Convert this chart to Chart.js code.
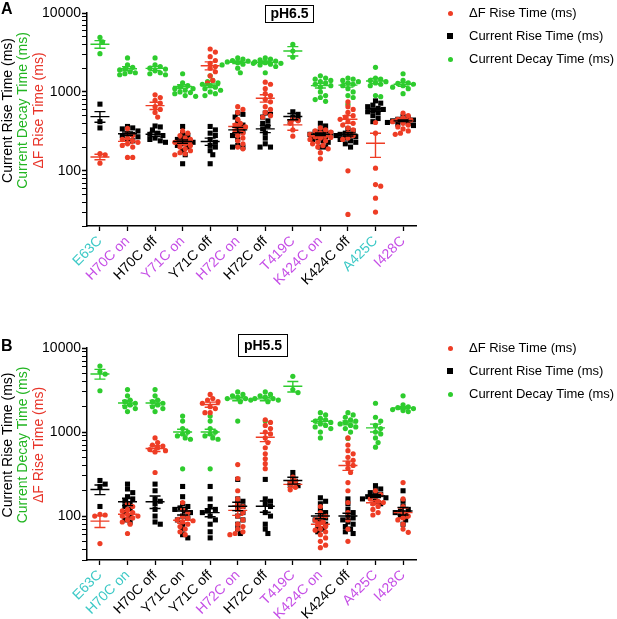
<!doctype html>
<html lang="en">
<head>
<meta charset="UTF-8">
<title>Rise and decay times</title>
<script src="https://cdn.jsdelivr.net/npm/chart.js"></script>
<style>
    body { margin: 0; background: #fff; font-family: Arial, "Liberation Sans", sans-serif; }
    #page { position: relative; width: 617px; height: 619px; overflow: hidden; }
    canvas { position: absolute; left: 0; }
    .letter { position: absolute; left: 1px; font-weight: bold; font-size: 16px; }
    .phbox { position: absolute; border: 1.5px solid #000; font-weight: bold; font-size: 14px;
             text-align: center; box-sizing: border-box; }
    .leg { position: absolute; left: 469px; font-size: 13px; line-height: 16px; white-space: nowrap; }
    .mk { position: absolute; }
</style>
</head>
<body>
<div id="page">
    <canvas id="chartA" width="617" height="300" style="top:0"></canvas>
    <canvas id="chartB" width="617" height="319" style="top:300px"></canvas>

    <div class="letter" style="top:0">A</div>
    <div class="letter" style="top:337px">B</div>
    <div class="phbox" style="left:265px;top:5px;width:49px;height:18px;line-height:15px">pH6.5</div>
    <div class="phbox" style="left:238px;top:334px;width:50px;height:23px;line-height:20px">pH5.5</div>

    <div id="legA"></div>
    <div id="legB"></div>
</div>

<script>
    var categories = ['E63C', 'H70C on', 'H70C off', 'Y71C on', 'Y71C off', 'H72C on', 'H72C off',
        'T419C', 'K424C on', 'K424C off', 'A425C', 'I428C'];

    var seriesNames = ['\u0394F Rise Time (ms)', 'Current Rise Time (ms)', 'Current Decay Time (ms)'];

    // c = cyan, m = magenta, k = black
    var labelKindsA = ['c', 'm', 'k', 'm', 'k', 'm', 'k', 'm', 'm', 'k', 'c', 'm'];
    var labelKindsB = ['c', 'c', 'k', 'k', 'k', 'm', 'k', 'm', 'm', 'k', 'm', 'm'];

    // ---- pH 6.5 ----
    var dfRiseA = [
        [165, 160, 125],
        [345, 300, 280, 260, 250, 240, 230, 220, 210, 200, 148, 148],
        [920, 850, 780, 720, 650, 600, 550, 480],
        [320, 300, 280, 260, 250, 240, 230, 220, 210, 200, 190, 180, 170, 165, 160],
        [3500, 3200, 2800, 2500, 2300, 2100, 2000, 1800, 1600, 1400, 1300],
        [650, 600, 550, 450, 400, 380, 360, 340, 320, 300, 280, 260, 240, 220, 200, 190],
        [1330, 1250, 1100, 950, 900, 800, 750, 650, 600, 550, 500, 480],
        [450, 430, 400, 330, 275],
        [350, 330, 320, 310, 300, 290, 280, 270, 265, 260, 250, 240, 230, 220, 210, 200, 190, 170, 142],
        [750, 650, 600, 550, 500, 480, 450, 420, 400, 380, 350, 330, 300, 280, 260, 250, 100, 28],
        [410, 300, 108, 67, 64, 45, 30],
        [540, 500, 470, 450, 440, 420, 400, 380, 360, 340, 320, 300, 290]
    ];
    var curRiseA = [
        [700, 420, 350],
        [365, 350, 340, 320, 300, 290, 280, 270, 250, 240],
        [370, 360, 330, 300, 290, 280, 260, 250, 240, 230],
        [365, 300, 280, 260, 250, 240, 230, 220, 210, 200, 180, 160, 123],
        [365, 330, 300, 280, 250, 230, 210, 200, 180, 160, 123],
        [540, 520, 480, 420, 380, 350, 320, 300, 280, 250, 210, 200, 200],
        [540, 520, 480, 430, 400, 370, 340, 300, 260, 220, 200, 200],
        [560, 520, 480, 450, 420],
        [400, 370, 340, 320, 310, 300, 295, 290, 280, 270, 260, 250, 240, 230, 200, 200],
        [340, 320, 300, 290, 280, 270, 260, 250, 240, 230, 220, 200],
        [770, 720, 680, 650, 620, 600, 580, 560, 540, 500, 460, 420],
        [490, 470, 450, 440, 430, 425, 420, 410, 400, 390, 375]
    ];
    var decayA = [
        [4900, 4300, 3050],
        [2700, 2200, 2050, 1950, 1900, 1800, 1750, 1700, 1650],
        [2700, 2200, 2100, 2000, 1950, 1850, 1750, 1700, 1650],
        [1700, 1300, 1200, 1150, 1100, 1100, 1050, 1000, 980, 950, 900, 880],
        [1600, 1400, 1350, 1300, 1250, 1200, 1150, 1100, 1050, 1000, 950, 900],
        [2700, 2600, 2500, 2450, 2400, 2350, 2300, 2250, 2200, 2000, 1750],
        [2700, 2600, 2550, 2450, 2400, 2350, 2300, 2250, 2200, 2100, 1750],
        [4000, 3300, 2750],
        [1600, 1500, 1450, 1400, 1350, 1300, 1250, 1200, 1150, 1000, 900, 850, 800, 760],
        [1500, 1450, 1400, 1350, 1300, 1250, 1200, 1100, 1000, 900, 850, 700],
        [2050, 1500, 1450, 1400, 1350, 1300, 1250, 1200, 900, 870],
        [1700, 1400, 1300, 1280, 1250, 1200, 1150, 1100, 950]
    ];
    var dfMeanA = [150, 236, 670, 228, 2150, 364, 832, 382, 272, 451, 224, 442];
    var dfSemA = [12, 15, 70, 12, 250, 30, 90, 55, 12, 50, 76, 20];
    var curMeanA = [487, 295, 291, 235, 235, 330, 340, 488, 291, 291, 592, 430];
    var curSemA = [75, 15, 20, 12, 25, 25, 35, 45, 10, 15, 30, 10];
    var decMeanA = [4020, 1970, 1990, 1170, 1200, 2377, 2377, 3300, 1200, 1220, 1377, 1250];
    var decSemA = [440, 120, 120, 60, 60, 90, 90, 450, 80, 70, 100, 70];

    // ---- pH 5.5 ----
    var dfRiseB = [
        [105, 103, 100, 47],
        [140, 130, 120, 115, 110, 105, 100, 100, 95, 90, 85, 80, 62],
        [850, 750, 700, 680, 650, 620, 600, 580, 330],
        [145, 120, 110, 100, 95, 90, 88, 85, 80, 75, 70, 65, 60],
        [2800, 2500, 2400, 2300, 2200, 2000, 1900, 1700, 1700],
        [410, 280, 200, 160, 140, 130, 120, 110, 100, 90, 80, 75, 70, 65, 62, 60],
        [1400, 1300, 1200, 1100, 1000, 950, 850, 750, 650, 550, 480, 420, 366],
        [290, 260, 240, 220, 205],
        [130, 110, 100, 95, 90, 85, 80, 75, 70, 68, 65, 60, 55, 50, 45, 42],
        [850, 700, 600, 550, 500, 460, 430, 400, 370, 330, 250, 200, 145, 110, 90, 70, 50],
        [200, 180, 170, 160, 150, 145, 140, 130, 120, 110, 103],
        [250, 160, 130, 110, 100, 95, 90, 80, 70, 64]
    ];
    var curRiseB = [
        [265, 240, 225, 130],
        [240, 210, 190, 170, 160, 150, 140, 130, 120, 110, 100, 90, 85],
        [240, 200, 160, 150, 140, 120, 100, 85, 80],
        [225, 170, 140, 130, 125, 120, 115, 110, 100, 95, 90, 80, 70, 60, 55],
        [225, 160, 130, 120, 115, 110, 100, 90, 80, 65, 55],
        [273, 160, 150, 140, 130, 120, 110, 100, 90, 80, 70, 62],
        [273, 160, 150, 140, 130, 110, 100, 80, 70, 62],
        [330, 290, 260, 240, 230],
        [165, 150, 140, 120, 110, 100, 95, 90, 85, 80, 75, 70, 65],
        [160, 140, 120, 110, 100, 95, 90, 85, 80, 75, 70, 65, 62],
        [230, 210, 200, 190, 180, 175, 170, 165, 160, 150, 140],
        [200, 150, 130, 120, 115, 110, 105, 100, 90, 80]
    ];
    var decayB = [
        [6100, 5200, 4900, 3100],
        [3200, 2700, 2400, 2300, 2200, 2100, 2000, 1900, 1750],
        [3200, 2700, 2400, 2300, 2200, 2100, 2000, 1900, 1750],
        [1550, 1350, 1100, 1000, 950, 900, 850, 820, 365],
        [1550, 1350, 1100, 1000, 950, 900, 850, 820, 365],
        [3000, 2800, 2700, 2600, 2500, 2500, 2400, 2300, 1350],
        [3000, 2800, 2700, 2600, 2500, 2500, 2400, 2300, 1350],
        [4600, 3200, 2950],
        [1700, 1600, 1450, 1400, 1350, 1300, 1250, 1200, 1150, 1100, 1000, 850],
        [1700, 1600, 1500, 1400, 1350, 1300, 1250, 1200, 1150, 1100, 1000, 840],
        [2200, 1500, 1350, 1200, 1100, 1000, 950, 850, 750, 660],
        [2700, 2100, 2000, 1950, 1900, 1850, 1800, 1750]
    ];
    var dfMeanB = [87, 105, 637, 89, 2122, 117, 868, 238, 80, 400, 144, 110];
    var dfSemB = [14, 8, 50, 7, 150, 15, 100, 20, 5, 50, 8, 15];
    var curMeanB = [207, 148, 148, 115, 110, 131, 131, 265, 100, 100, 173, 115];
    var curSemB = [27, 15, 25, 12, 12, 15, 20, 25, 7, 8, 7, 12];
    var decMeanB = [4910, 2220, 2220, 1000, 1000, 2478, 2478, 3500, 1345, 1285, 1122, 1936];
    var decSemB = [650, 150, 150, 80, 80, 120, 120, 500, 70, 70, 120, 60];

    // ---- styling ----
    var RED = '#ee3d25', BLACK = '#000', GREEN = '#2ecc2e';
    var kindColor = {c: '#3cc9c6', m: '#c54ee6', k: '#000'};
    var FONT = 'Arial, "Liberation Sans", sans-serif';
    var CAT_PX = 27.5;   // approx pixels per category, for the jitter

    // simple beeswarm: horizontal offsets (in category units) so points don't pile up
    function swarm(vals, pxPerDecade) {
        var placed = [], offs = [];
        var order = vals.map(function (v, i) { return i; }).sort(function (a, b) { return vals[b] - vals[a]; });
        order.forEach(function (i) {
            var u = Math.log10(vals[i]) * pxPerDecade, dx = 0;
            for (var k = 0; k < 30; k++) {
                var cand = (k === 0 ? 0 : (k % 2 ? 1 : -1) * Math.ceil(k / 2) * 2.6);
                var ok = placed.every(function (p) {
                    var a = p.u - u, b = p.dx - cand;
                    return a * a + b * b >= 22;
                });
                if (ok) { dx = cand; break; }
            }
            placed.push({u: u, dx: dx});
            offs[i] = dx / CAT_PX;
        });
        return offs;
    }

    function toPoints(groups, pxPerDecade) {
        var pts = [];
        groups.forEach(function (vals, i) {
            var offs = swarm(vals, pxPerDecade);
            vals.forEach(function (v, j) { pts.push({x: i + offs[j], y: v}); });
        });
        return pts;
    }

    var statsPlugin = {
        id: 'stats',
        afterDatasetsDraw: function (chart, args, opts) {
            var ctx = chart.ctx, xs = chart.scales.x, ys = chart.scales.y;
            ctx.save();
            ctx.lineWidth = 1.4;
            opts.series.forEach(function (s) {
                ctx.strokeStyle = s.color;
                s.mean.forEach(function (m, i) {
                    var x = xs.getPixelForValue(i), y = ys.getPixelForValue(m);
                    var lo = ys.getPixelForValue(m - s.sem[i]), hi = ys.getPixelForValue(m + s.sem[i]);
                    ctx.beginPath();
                    ctx.moveTo(x - 9.5, y); ctx.lineTo(x + 9.5, y);
                    ctx.moveTo(x, lo); ctx.lineTo(x, hi);
                    ctx.moveTo(x - 5.5, lo); ctx.lineTo(x + 5.5, lo);
                    ctx.moveTo(x - 5.5, hi); ctx.lineTo(x + 5.5, hi);
                    ctx.stroke();
                });
            });
            ctx.restore();
        }
    };

    var yTitlePlugin = {
        id: 'ytitle',
        afterDraw: function (chart) {
            var ca = chart.chartArea, ctx = chart.ctx;
            var cy = (ca.top + ca.bottom) / 2 - 9;
            var lines = [
                {t: 'Current Rise Time (ms)', c: '#000', x: 8},
                {t: 'Current Decay Time (ms)', c: '#22b522', x: 23.5},
                {t: '\u0394F Rise Time (ms)', c: '#e8352a', x: 39.5}
            ];
            ctx.save();
            ctx.font = '14px ' + FONT;
            ctx.textAlign = 'center';
            ctx.textBaseline = 'middle';
            lines.forEach(function (l) {
                ctx.save();
                ctx.translate(l.x, cy);
                ctx.rotate(-Math.PI / 2);
                ctx.fillStyle = l.c;
                ctx.fillText(l.t, 0, 0);
                ctx.restore();
            });
            ctx.restore();
        }
    };

    function isPow10(v) {
        var e = Math.log10(v);
        return Math.abs(e - Math.round(e)) < 1e-9;
    }

    function makeChart(id, p) {
        return new Chart(document.getElementById(id), {
            type: 'scatter',
            data: {
                datasets: [
                    {label: seriesNames[0], data: toPoints(p.df, p.ppd), backgroundColor: RED,
                        pointStyle: 'circle', pointRadius: 2.6, borderWidth: 0},
                    {label: seriesNames[1], data: toPoints(p.cur, p.ppd), backgroundColor: BLACK,
                        pointStyle: 'rect', pointRadius: 3.6, borderWidth: 0},
                    {label: seriesNames[2], data: toPoints(p.dec, p.ppd), backgroundColor: GREEN,
                        pointStyle: 'circle', pointRadius: 2.6, borderWidth: 0}
                ]
            },
            options: {
                responsive: false,
                animation: false,
                events: [],
                layout: {padding: {top: p.top, right: 201, left: 0, bottom: 0}},
                plugins: {
                    legend: {display: false},
                    tooltip: {enabled: false},
                    stats: {
                        series: [
                            {color: GREEN, mean: p.decMean, sem: p.decSem},
                            {color: RED, mean: p.dfMean, sem: p.dfSem},
                            {color: BLACK, mean: p.curMean, sem: p.curSem}
                        ]
                    }
                },
                scales: {
                    x: {
                        type: 'linear',
                        min: -0.47,
                        max: 11.47,
                        afterBuildTicks: function (axis) {
                            axis.ticks = categories.map(function (c, i) { return {value: i}; });
                        },
                        afterFit: function (s) { s.height = p.xh; },
                        ticks: {
                            autoSkip: false,
                            minRotation: 45,
                            maxRotation: 45,
                            padding: 2,
                            font: {size: 14, family: FONT},
                            color: function (ctx) { return kindColor[p.kinds[ctx.index]]; },
                            callback: function (v) { return categories[v]; }
                        },
                        grid: {display: true, drawOnChartArea: false, tickLength: 5, color: '#000', tickWidth: 1.3},
                        border: {display: true, color: '#000', width: 1.5}
                    },
                    y: {
                        type: 'logarithmic',
                        min: p.ymin,
                        max: 10000,
                        afterBuildTicks: function (axis) {
                            var t = [];
                            for (var d = 10; d <= 10000; d *= 10) {
                                for (var k = 1; k <= 9; k++) {
                                    var v = k * d;
                                    if (v >= p.ymin && v <= 10000) t.push({value: v, major: k === 1});
                                }
                            }
                            axis.ticks = t;
                        },
                        afterFit: function (s) { s.width = 87; },
                        ticks: {
                            autoSkip: false,
                            padding: 1,
                            color: '#000',
                            font: {size: 14, family: FONT},
                            callback: function (v) { return isPow10(v) ? String(v) : ''; }
                        },
                        grid: {
                            display: true, drawOnChartArea: false, tickLength: 5, color: '#000',
                            tickWidth: function (ctx) { return ctx.tick && isPow10(ctx.tick.value) ? 1.5 : 1; }
                        },
                        border: {display: true, color: '#000', width: 1.5}
                    }
                }
            },
            plugins: [statsPlugin, yTitlePlugin]
        });
    }

    makeChart('chartA', {
        df: dfRiseA, cur: curRiseA, dec: decayA,
        dfMean: dfMeanA, dfSem: dfSemA, curMean: curMeanA, curSem: curSemA, decMean: decMeanA, decSem: decSemA,
        kinds: labelKindsA, ymin: 20, ppd: 79, top: 13, xh: 74
    });
    makeChart('chartB', {
        df: dfRiseB, cur: curRiseB, dec: decayB,
        dfMean: dfMeanB, dfSem: dfSemB, curMean: curMeanB, curSem: curSemB, decMean: decMeanB, decSem: decSemB,
        kinds: labelKindsB, ymin: 30, ppd: 84, top: 48, xh: 59
    });

    // legends
    function legend(id, top) {
        var box = document.getElementById(id);
        var marks = [
            'left:447.5px;width:5px;height:5px;border-radius:50%;background:' + RED,
            'left:447px;width:6px;height:6px;background:' + BLACK,
            'left:447.5px;width:5px;height:5px;border-radius:50%;background:' + GREEN
        ];
        seriesNames.forEach(function (name, i) {
            var cy = top + i * 23;
            var m = document.createElement('div');
            m.className = 'mk';
            m.style.cssText = marks[i] + ';top:' + (cy - (i === 1 ? 3 : 2.5)) + 'px';
            box.appendChild(m);
            var t = document.createElement('div');
            t.className = 'leg';
            t.style.top = (cy - 8) + 'px';
            t.textContent = name;
            box.appendChild(t);
        });
    }
    legend('legA', 13);
    legend('legB', 348);
</script>
</body>
</html>
